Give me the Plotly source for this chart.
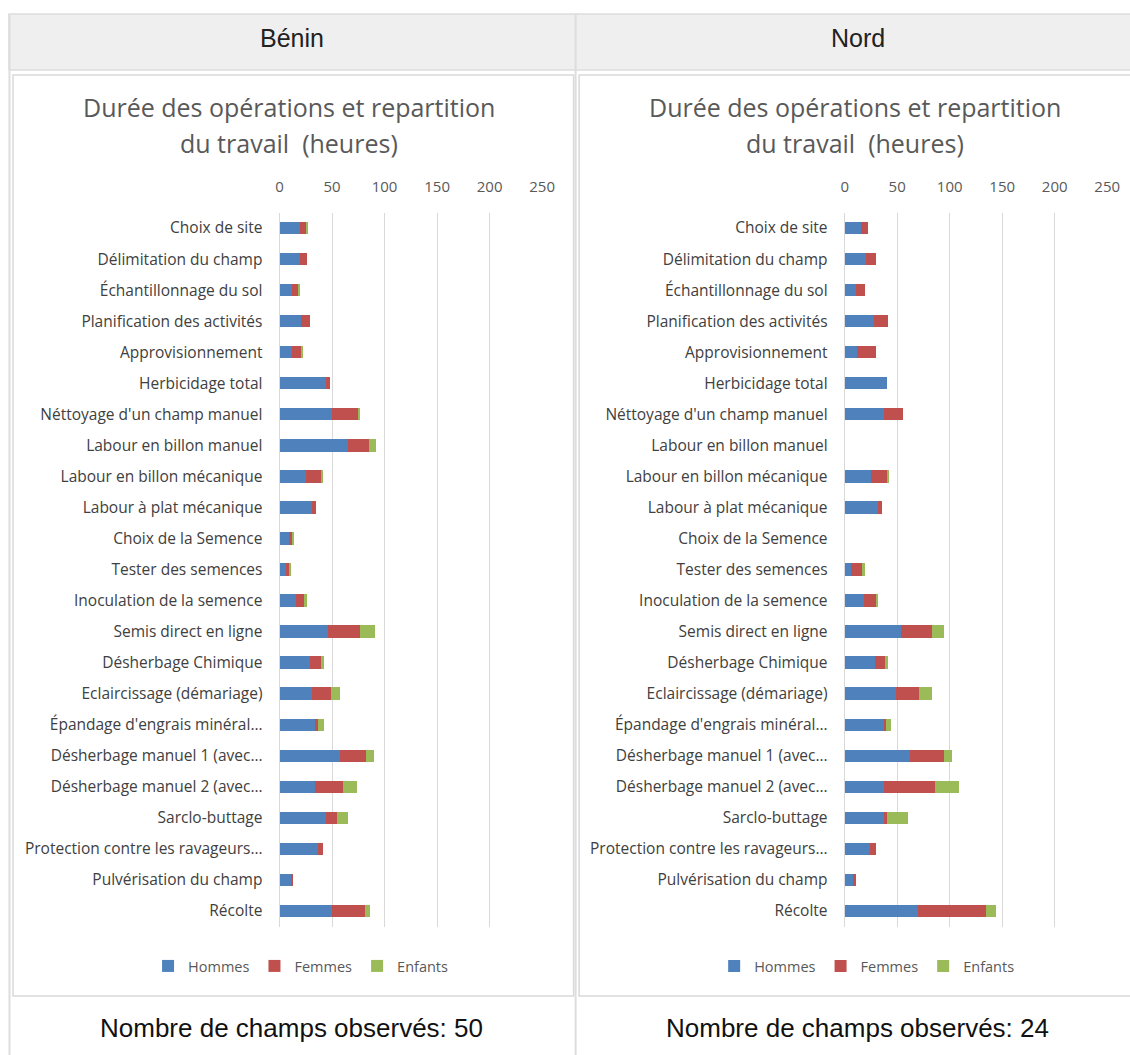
import plotly.graph_objects as go

W, H = 1148, 1055
# horizontal calibration measured on the rendered picture
CX0, CXS = 3.5, 0.985

categories = [
    "Choix de site", "Délimitation du champ", "Échantillonnage du sol",
    "Planification des activités", "Approvisionnement", "Herbicidage total",
    "Néttoyage d'un champ manuel", "Labour en billon manuel",
    "Labour en billon mécanique", "Labour à plat mécanique",
    "Choix de la Semence", "Tester des semences", "Inoculation de la semence",
    "Semis direct en ligne", "Désherbage Chimique", "Eclaircissage (démariage)",
    "Épandage d'engrais minéral…", "Désherbage manuel 1 (avec…",
    "Désherbage manuel 2 (avec…", "Sarclo-buttage",
    "Protection contre les ravageurs…", "Pulvérisation du champ", "Récolte",
]

benin_hommes = [19.4, 19.4, 11.8, 20.7, 11.8, 44.5, 50.0, 65.0, 25.0, 31.0, 9.2,
                6.0, 16.0, 45.8, 29.3, 30.9, 34.0, 57.6, 34.0, 44.2, 36.9, 10.5, 50.0]
benin_femmes = [5.7, 7.0, 6.0, 8.6, 8.9, 3.8, 25.0, 20.5, 14.7, 4.0, 2.6,
                2.9, 7.3, 30.9, 10.1, 17.8, 2.9, 24.8, 26.4, 10.5, 4.4, 1.3, 31.5]
benin_enfants = [1.0, 0.0, 1.6, 0.0, 1.2, 0.0, 1.6, 6.0, 1.5, 0.0, 1.2,
                 1.3, 2.9, 14.6, 3.2, 8.9, 5.7, 7.6, 13.4, 10.2, 0.0, 0.0, 4.2]

nord_hommes = [15.3, 20.7, 10.5, 28.3, 11.8, 40.0, 37.0, 0.0, 25.4, 31.5, 0.0,
               6.4, 18.0, 54.0, 28.6, 49.3, 37.5, 62.3, 37.5, 37.5, 24.2, 7.6, 69.7]
nord_femmes = [7.0, 8.9, 8.6, 12.7, 17.8, 0.0, 19.0, 0.0, 14.9, 4.1, 0.0,
               9.9, 11.8, 29.0, 10.2, 21.9, 1.6, 32.5, 48.4, 2.8, 5.7, 2.9, 64.8]
nord_enfants = [0.0, 0.0, 0.0, 0.0, 0.0, 0.0, 0.0, 0.0, 1.0, 0.0, 0.0,
                3.2, 1.3, 11.7, 2.5, 11.5, 5.4, 7.0, 23.2, 20.1, 0.0, 0.0, 9.9]

series_names = ["Hommes", "Femmes", "Enfants"]
series_colors = ["#4f81bd", "#c0504d", "#9bbb59"]
x_ticks = [0, 50, 100, 150, 200, 250]

panel_titles = ["Bénin", "Nord"]
footers = ["Nombre de champs observés: 50", "Nombre de champs observés: 24"]
title_line1 = "Durée des opérations et repartition"
title_line2 = "du travail \u00a0(heures)"


def px(x):
    return ((x - CX0) / CXS) / W


def py(y):
    return 1 - y / H


fig = go.Figure()

panels = [
    dict(data=[benin_hommes, benin_femmes, benin_enfants], xa="x", ya="y", leg="legend"),
    dict(data=[nord_hommes, nord_femmes, nord_enfants], xa="x2", ya="y2", leg="legend2"),
]

for p in panels:
    for name, vals, col in zip(series_names, p["data"], series_colors):
        fig.add_trace(go.Bar(
            y=categories, x=vals, name=name, orientation="h",
            marker=dict(color=col, line=dict(width=0)),
            xaxis=p["xa"], yaxis=p["ya"], legend=p["leg"],
            hovertemplate="%{y}: %{x}<extra>" + name + "</extra>",
        ))

label_font = dict(family="Open Sans", size=15, color="#595959")
cat_font = dict(family="Open Sans", size=15.5, color="#404040")
leg_font = dict(family="Open Sans", size=14.5, color="#595959")

ydom = [py(926.5), py(212.5)]
xdoms = [[px(279), px(541.5)], [px(844), px(1106.5)]]

common_x = dict(side="top", range=[0, 250], tickvals=x_ticks, showgrid=True,
                gridcolor="#d9d9d9", gridwidth=1, zeroline=False, showline=False,
                ticks="", tickfont=label_font, ticklabelstandoff=17, fixedrange=True)
common_y = dict(categoryorder="array", categoryarray=categories, autorange="reversed",
                showline=True, linecolor="#d9d9d9", linewidth=1, showgrid=False,
                ticks="", tickfont=cat_font, ticklabelstandoff=13, fixedrange=True)

legend_common = dict(orientation="h", xanchor="center", yanchor="middle", font=leg_font,
                     itemwidth=30, bgcolor="rgba(0,0,0,0)", itemclick=False,
                     traceorder="normal", tracegroupgap=0)

fig.update_layout(
    width=W, height=H,
    margin=dict(l=0, r=0, t=0, b=0),
    paper_bgcolor="white", plot_bgcolor="white",
    barmode="stack", bargap=0.6,
    xaxis=dict(domain=xdoms[0], anchor="y", **common_x),
    yaxis=dict(domain=ydom, anchor="x", **common_y),
    xaxis2=dict(domain=xdoms[1], anchor="y2", **common_x),
    yaxis2=dict(domain=ydom, anchor="x2", **common_y),
    legend=dict(x=px(300), y=py(966), **legend_common),
    legend2=dict(x=px(866), y=py(966), **legend_common),
    showlegend=True,
)

shapes = []
# header band
shapes.append(dict(type="rect", xref="paper", yref="paper",
                   x0=px(8.5), x1=px(1160), y0=py(70), y1=py(14),
                   fillcolor="#efefef", line=dict(color="#dddddd", width=1.5), layer="below"))
# table left border and column divider
shapes.append(dict(type="line", xref="paper", yref="paper",
                   x0=px(9), x1=px(9), y0=py(14), y1=py(1070),
                   line=dict(color="#dddddd", width=2)))
shapes.append(dict(type="line", xref="paper", yref="paper",
                   x0=px(575), x1=px(575), y0=py(14), y1=py(1070),
                   line=dict(color="#dddddd", width=2)))
# chart boxes
shapes.append(dict(type="rect", xref="paper", yref="paper",
                   x0=px(12.5), x1=px(573), y0=py(996), y1=py(75),
                   line=dict(color="#d9d9d9", width=1.5), layer="below"))
shapes.append(dict(type="rect", xref="paper", yref="paper",
                   x0=px(578.5), x1=px(1165), y0=py(996), y1=py(75),
                   line=dict(color="#d9d9d9", width=1.5), layer="below"))
fig.update_layout(shapes=shapes)

annotations = []
for cx, title, foot, tcx in zip([291, 857], panel_titles, footers, [288, 854]):
    annotations.append(dict(text=title, x=px(cx), y=py(38), xref="paper", yref="paper",
                            showarrow=False, xanchor="center", yanchor="middle",
                            font=dict(family="Liberation Sans", size=25, color="#222222")))
    annotations.append(dict(text=foot, x=px(cx), y=py(1028), xref="paper", yref="paper",
                            showarrow=False, xanchor="center", yanchor="middle",
                            font=dict(family="Liberation Sans", size=26, color="#111111")))
    for line, ly in ((title_line1, 107), (title_line2, 143)):
        annotations.append(dict(text=line, x=px(tcx), y=py(ly), xref="paper", yref="paper",
                                showarrow=False, xanchor="center", yanchor="middle",
                                font=dict(family="Open Sans", size=25, color="#595959")))
fig.update_layout(annotations=annotations)

fig.write_html(
    "out.html",
    config={"displayModeBar": False},
    post_script="document.body.style.margin='0';document.body.style.overflow='hidden';",
)
